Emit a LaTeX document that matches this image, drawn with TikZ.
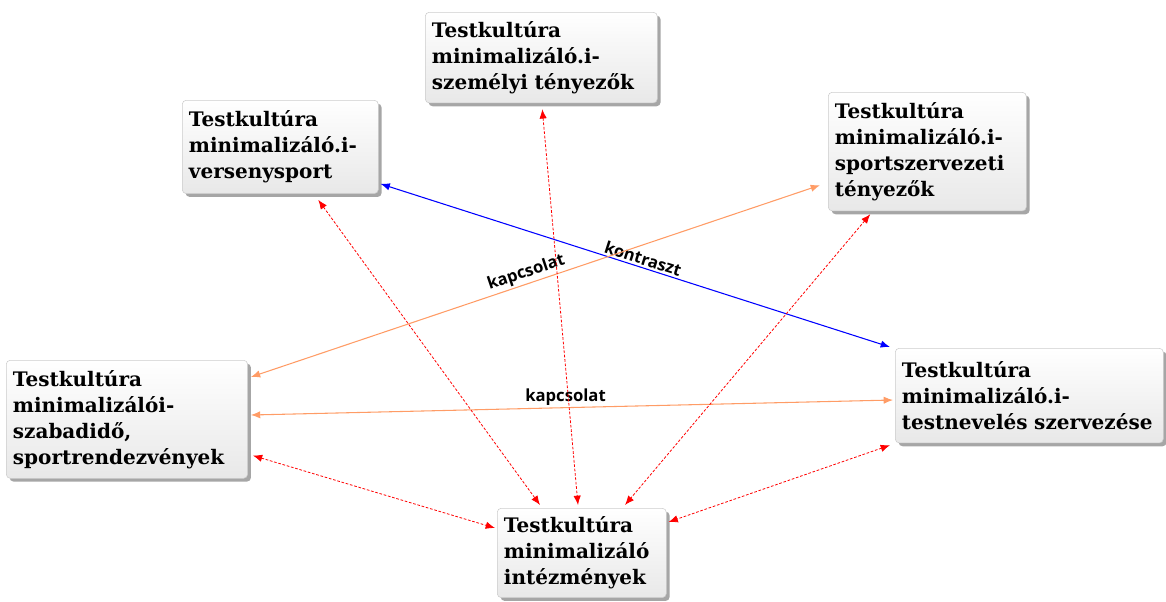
\documentclass[tikz,border=0pt]{standalone}
\usepackage{fontspec}
\setmainfont{DejaVu Serif}
\newfontfamily\labelfont{Open Sans}
\usetikzlibrary{arrows.meta,shadows,calc}

\tikzset{
  box/.style = {
    draw = gray!40, rounded corners = 3pt,
    top color = white, bottom color = gray!18,
    drop shadow = {shadow xshift = 2.5pt, shadow yshift = -2.5pt,
                   fill = gray, opacity = 0.7},
    anchor = north west, align = left,
    inner xsep = 5pt, inner ysep = 2pt,
    font = \fontsize{15}{19.5}\selectfont\bfseries
  },
  redlink/.style = {
    red, line width = 0.6pt, dash pattern = on 2pt off 1.3pt,
    {Latex[length = 7pt, width = 5.5pt]}-{Latex[length = 7pt, width = 5.5pt]}
  },
  orangelink/.style = {
    orange!70!red!60!white, line width = 0.8pt,
    {Latex[length = 7pt, width = 5.5pt]}-{Latex[length = 7pt, width = 5.5pt]}
  },
  bluelink/.style = {
    blue, line width = 0.8pt,
    {Latex[length = 7pt, width = 5.5pt]}-{Latex[length = 7pt, width = 5.5pt]}
  },
  lbl/.style = {text = black, font = \labelfont\fontsize{12.5}{14}\selectfont\bfseries,
                inner sep = 1.5pt}
}

\begin{document}
\begin{tikzpicture}[x = 0.75pt, y = -0.75pt]
  \useasboundingbox (0, 0) rectangle (1166, 601);

  % boxes
  % -----
  \node [box, text width = 164pt, minimum height = 68pt] (szem) at (425, 12)
    {Testkultúra\\minimalizáló.i-\\személyi tényezők};
  \node [box, text width = 137pt, minimum height = 70pt] (vers) at (182, 100)
    {Testkultúra\\minimalizáló.i-\\versenysport};
  \node [box, text width = 138.5pt, minimum height = 89pt] (sport) at (828, 92)
    {Testkultúra\\minimalizáló.i-\\sportszervezeti\\tényezők};
  \node [box, text width = 171pt, minimum height = 88.5pt] (szab) at (6, 360)
    {Testkultúra\\minimalizálói-\\szabadidő,\\sportrendezvények};
  \node [box, text width = 191pt, minimum height = 71pt] (testn) at (895, 348)
    {Testkultúra\\minimalizáló.i-\\testnevelés szervezése};
  \node [box, text width = 116.75pt, minimum height = 67pt] (intez) at (497, 508)
    {Testkultúra\\minimalizáló\\intézmények};

  % relations
  % ---------
  \draw [bluelink]
    ($(vers.south east) + (2, -10)$) --
    node [lbl, pos = 0.51, above, sloped] {kontraszt}
    ($(testn.north west) + (-5, -1)$)
  ;
  \draw [orangelink]
    ($(szab.north east) + (3, 17)$) --
    node [lbl, pos = 0.49, above, sloped] {kapcsolat}
    ($(sport.south west) + (-8, -26)$)
  ;
  \draw [orangelink]
    ($(szab.north east) + (3, 55)$) --
    node [lbl, pos = 0.49, above] {kapcsolat}
    ($(testn.north west) + (-2, 52)$)
  ;

  % links to the institutions
  % -------------------------
  \draw [redlink] ($(vers.south) + (38, 6)$) -- ($(intez.north west) + (43, -3)$);
  \draw [redlink] ($(szem.south) + (1, 6)$) -- ($(intez.north west) + (81, -3)$);
  \draw [redlink] ($(sport.south) + (-57, 3)$) -- ($(intez.north west) + (128, -3)$);
  \draw [redlink] ($(szab.south east) + (5, -23)$) -- ($(intez.north west) + (-2, 20)$);
  \draw [redlink] ($(testn.south west) + (-5, 2)$) -- ($(intez.north east) + (2, 14)$);
\end{tikzpicture}
\end{document}
